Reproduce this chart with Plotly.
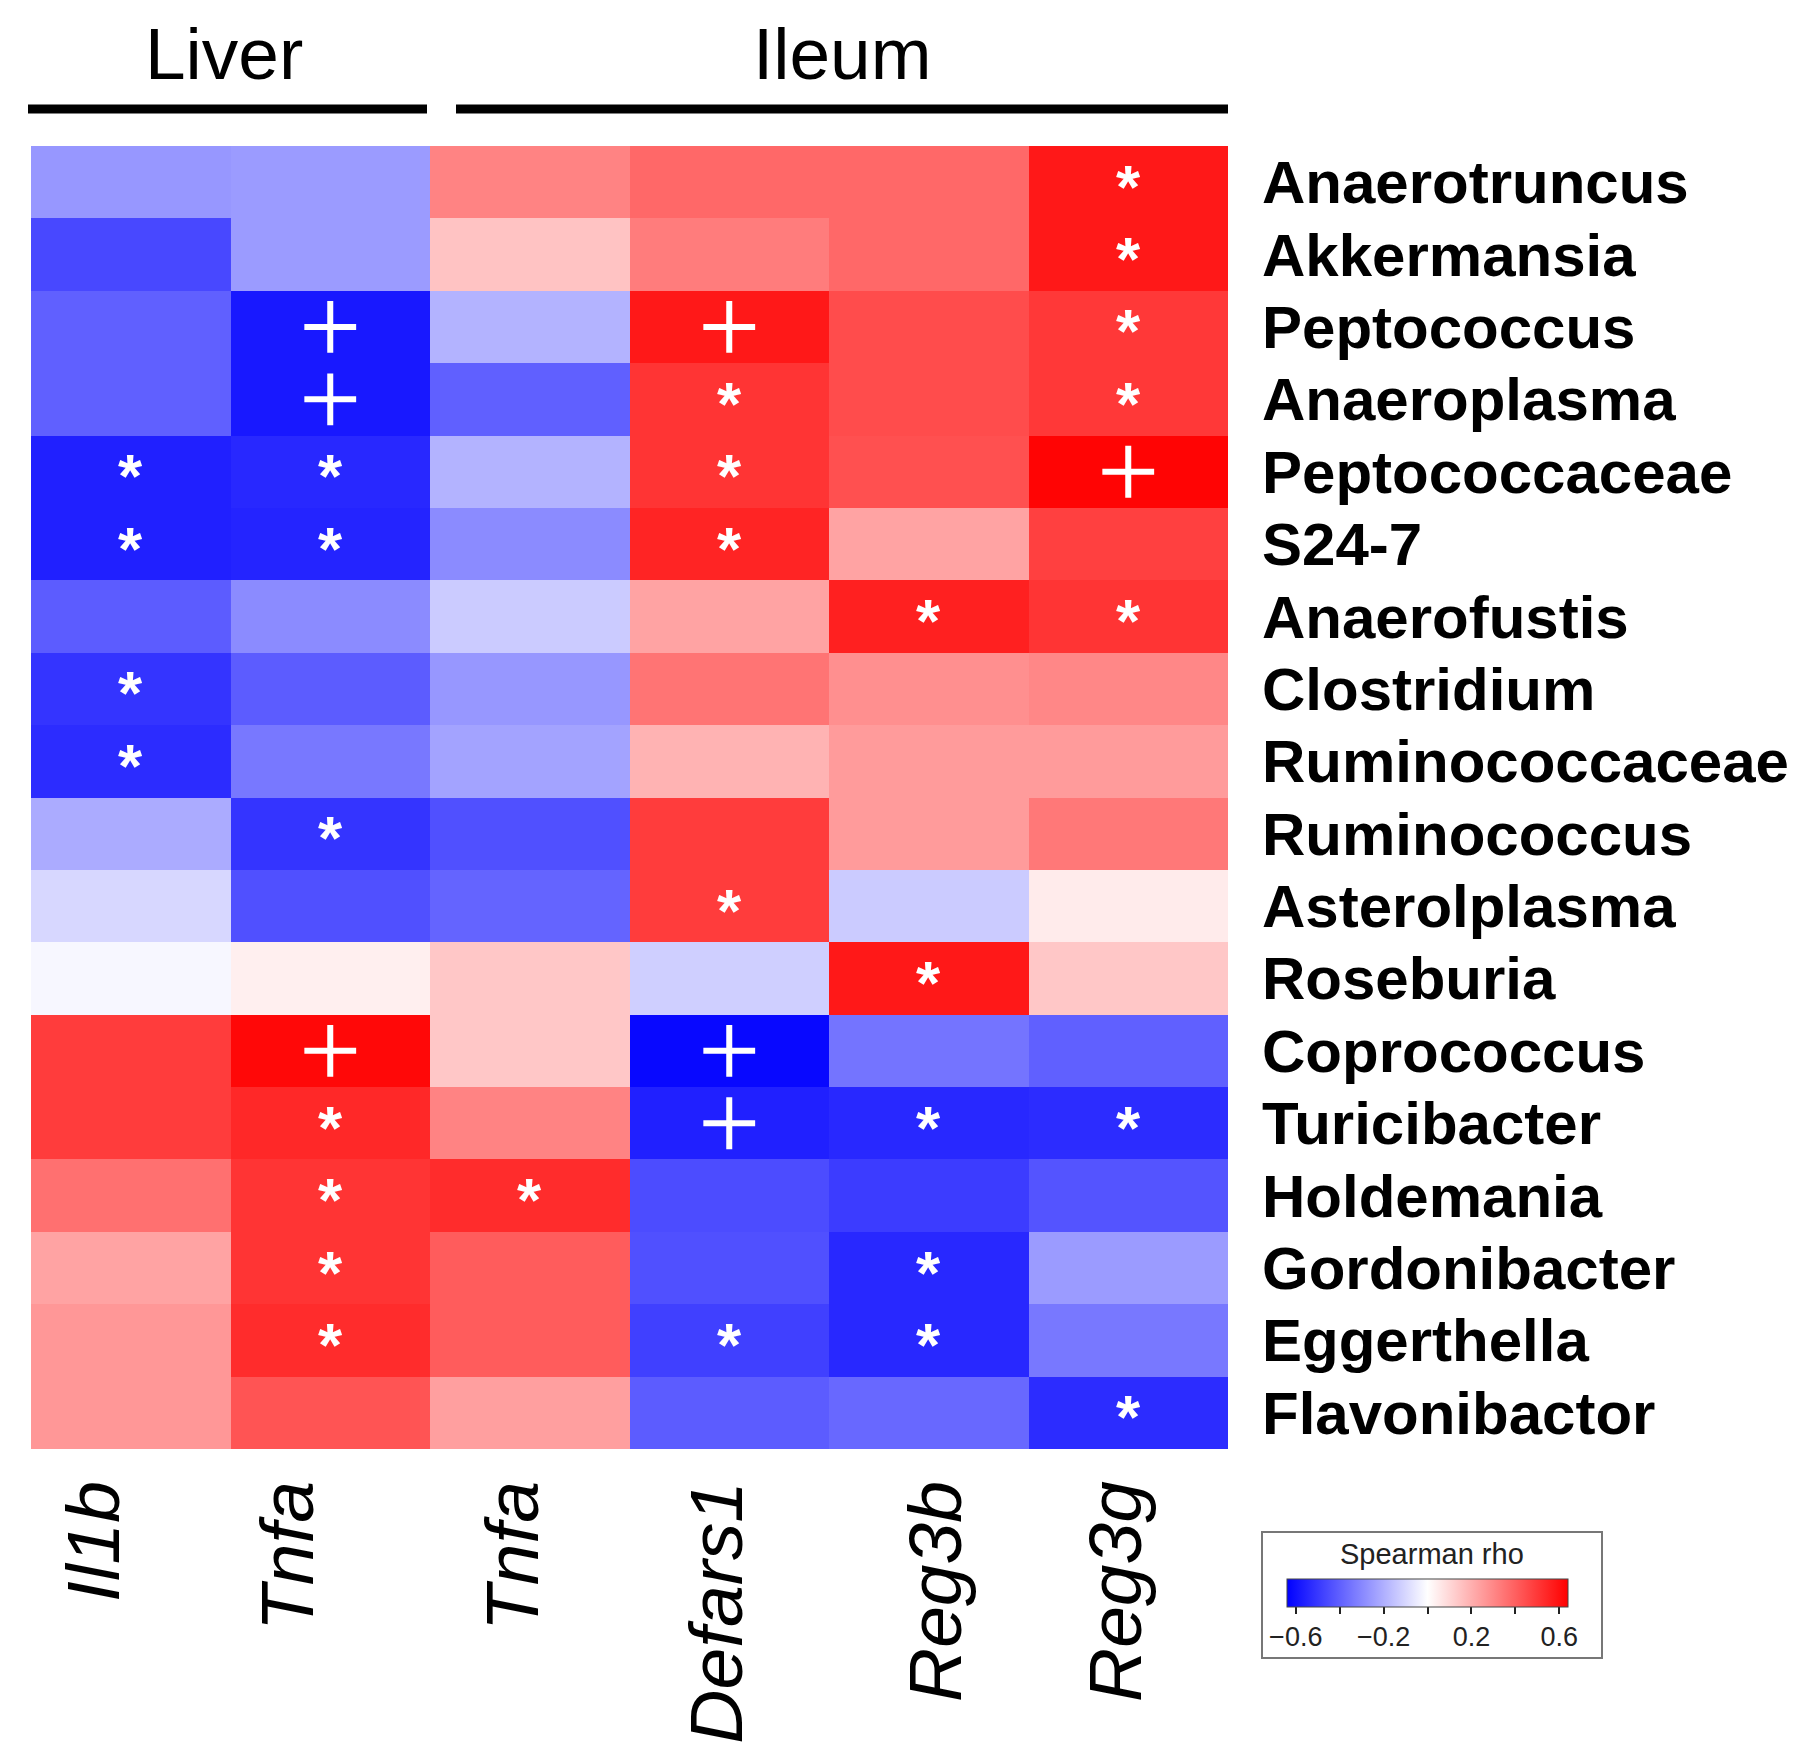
import plotly.graph_objects as go

# ---------------- data ----------------
genes = ["Il1b", "Tnfa", "Tnfa", "Defars1", "Reg3b", "Reg3g"]
taxa = ["Anaerotruncus", "Akkermansia", "Peptococcus", "Anaeroplasma",
        "Peptococcaceae", "S24-7", "Anaerofustis", "Clostridium",
        "Ruminococcaceae", "Ruminococcus", "Asterolplasma", "Roseburia",
        "Coprococcus", "Turicibacter", "Holdemania", "Gordonibacter",
        "Eggerthella", "Flavonibactor"]
groups = ["Liver", "Ileum"]
cb_title = "Spearman rho"

rho = [
    [-0.26, -0.25,  0.31,  0.38,  0.38,  0.58],
    [-0.46, -0.25,  0.15,  0.33,  0.38,  0.58],
    [-0.40, -0.58, -0.19,  0.58,  0.45,  0.50],
    [-0.40, -0.58, -0.40,  0.51,  0.45,  0.50],
    [-0.56, -0.54, -0.19,  0.51,  0.44,  0.63],
    [-0.56, -0.55, -0.29,  0.55,  0.23,  0.48],
    [-0.41, -0.29, -0.13,  0.23,  0.56,  0.51],
    [-0.51, -0.41, -0.26,  0.35,  0.28,  0.30],
    [-0.53, -0.34, -0.23,  0.19,  0.25,  0.25],
    [-0.21, -0.51, -0.44,  0.49,  0.25,  0.34],
    [-0.10, -0.44, -0.39,  0.49, -0.13,  0.05],
    [-0.02,  0.04,  0.14, -0.12,  0.58,  0.14],
    [ 0.49,  0.62,  0.14, -0.62, -0.35, -0.40],
    [ 0.49,  0.54,  0.31, -0.56, -0.54, -0.53],
    [ 0.36,  0.51,  0.53, -0.45, -0.49, -0.43],
    [ 0.23,  0.51,  0.41, -0.44, -0.54, -0.25],
    [ 0.26,  0.53,  0.41, -0.48, -0.54, -0.34],
    [ 0.26,  0.43,  0.24, -0.41, -0.38, -0.53],
]

signif = [
    ["", "", "", "", "", "*"],
    ["", "", "", "", "", "*"],
    ["", "+", "", "+", "", "*"],
    ["", "+", "", "*", "", "*"],
    ["*", "*", "", "*", "", "+"],
    ["*", "*", "", "*", "", ""],
    ["", "", "", "", "*", "*"],
    ["*", "", "", "", "", ""],
    ["*", "", "", "", "", ""],
    ["", "*", "", "", "", ""],
    ["", "", "", "*", "", ""],
    ["", "", "", "", "*", ""],
    ["", "+", "", "+", "", ""],
    ["", "*", "", "+", "*", "*"],
    ["", "*", "*", "", "", ""],
    ["", "*", "", "", "*", ""],
    ["", "*", "", "*", "*", ""],
    ["", "", "", "", "", "*"],
]

cb_tickvals = [-0.6, -0.4, -0.2, 0.0, 0.2, 0.4, 0.6]
cb_ticktext = ["\u22120.6", "", "\u22120.2", "", "0.2", "", "0.6"]

# ---------------- figure ----------------
# page body has an 8px margin; work in target-pixel coords and offset
OFF = 8
W, H = 1800 - 2 * OFF, 1757 - 2 * OFF
L, T = 31 - OFF, 146 - OFF
PW, PH = 1197, 1303
R = W - L - PW
B = H - T - PH

def px2paper_x(px):
    return (px - OFF - L) / PW

def px2paper_y(py):
    return (T + PH - (py - OFF)) / PH

xi = list(range(len(genes)))
yi = list(range(len(taxa)))
# visual nudges of the rotated italic labels (style)
label_dx = [-0.18, -0.21, -0.08, -0.06, 0.04, -0.06]

fig = go.Figure()
fig.add_trace(go.Heatmap(
    z=rho, x=xi, y=yi,
    colorscale=[[0, "rgb(0,0,255)"], [0.5, "rgb(255,255,255)"], [1, "rgb(255,0,0)"]],
    zmin=-0.64, zmax=0.64,
    xgap=0, ygap=0,
    colorbar=dict(
        orientation="h",
        x=px2paper_x(1427.5), xanchor="center",
        y=px2paper_y(1579), yanchor="top",
        len=281, lenmode="pixels",
        thickness=28, thicknessmode="pixels",
        tickvals=cb_tickvals, ticktext=cb_ticktext,
        ticks="outside", ticklen=7, tickwidth=2, tickcolor="#222",
        tickfont=dict(family="Liberation Sans, Arial", size=27, color="#222"),
        outlinewidth=1, outlinecolor="#444",
        xpad=0, ypad=0,
    ),
))

# '+' markers
px_, py_ = [], []
for r, row in enumerate(signif):
    for c, s in enumerate(row):
        if s == "+":
            px_.append(c)
            py_.append(r)
fig.add_trace(go.Scatter(
    x=px_, y=py_, mode="markers", hoverinfo="skip",
    marker=dict(symbol="cross-thin-open", size=37,
                line=dict(width=6, color="white"), color="white"),
    showlegend=False,
))

# '*' annotations
annots = []
for r, row in enumerate(signif):
    for c, s in enumerate(row):
        if s == "*":
            annots.append(dict(
                x=c, y=r, xref="x", yref="y", text="*", showarrow=False,
                font=dict(family="Liberation Sans, Arial", size=62, color="white",
                          weight="bold"),
                xanchor="center", yanchor="middle", yshift=-4,
            ))

# group headers
annots.append(dict(x=px2paper_x(224), y=px2paper_y(53), xref="paper", yref="paper",
                   text=groups[0], showarrow=False, xanchor="center", yanchor="middle",
                   font=dict(family="Liberation Sans, Arial", size=73, color="black")))
annots.append(dict(x=px2paper_x(842), y=px2paper_y(53), xref="paper", yref="paper",
                   text=groups[1], showarrow=False, xanchor="center", yanchor="middle",
                   font=dict(family="Liberation Sans, Arial", size=73, color="black")))
# colorbar title
annots.append(dict(x=px2paper_x(1432), y=px2paper_y(1554), xref="paper", yref="paper",
                   text=cb_title, showarrow=False, xanchor="center", yanchor="middle",
                   font=dict(family="Liberation Sans, Arial", size=29, color="#222")))

shapes = [
    dict(type="line", xref="paper", yref="paper",
         x0=px2paper_x(28), x1=px2paper_x(427), y0=px2paper_y(109), y1=px2paper_y(109),
         line=dict(color="black", width=9)),
    dict(type="line", xref="paper", yref="paper",
         x0=px2paper_x(456), x1=px2paper_x(1228), y0=px2paper_y(109), y1=px2paper_y(109),
         line=dict(color="black", width=9)),
    dict(type="rect", xref="paper", yref="paper",
         x0=px2paper_x(1262), x1=px2paper_x(1602), y0=px2paper_y(1658), y1=px2paper_y(1532),
         line=dict(color="#777", width=2), fillcolor="rgba(0,0,0,0)", layer="below"),
]

fig.update_layout(
    width=W, height=H,
    margin=dict(l=L, r=R, t=T, b=B, pad=0, autoexpand=False),
    paper_bgcolor="white", plot_bgcolor="white",
    annotations=annots, shapes=shapes,
    showlegend=False,
)
fig.update_xaxes(
    tickvals=[i + d for i, d in zip(xi, label_dx)], ticktext=genes,
    tickangle=-90, side="bottom", automargin=False,
    tickfont=dict(family="Liberation Sans, Arial", size=75, color="black", style="italic"),
    ticks="", showgrid=False, zeroline=False, showline=False,
    range=[-0.5, len(genes) - 0.5], ticklabelstandoff=16,
)
fig.update_yaxes(
    tickvals=yi, ticktext=taxa, side="right", automargin=False,
    tickfont=dict(family="Liberation Sans, Arial", size=60, color="black", weight="bold"),
    ticks="", showgrid=False, zeroline=False, showline=False,
    range=[len(taxa) - 0.5, -0.5], ticklabelstandoff=33,
)

fig.write_html("out.html")
